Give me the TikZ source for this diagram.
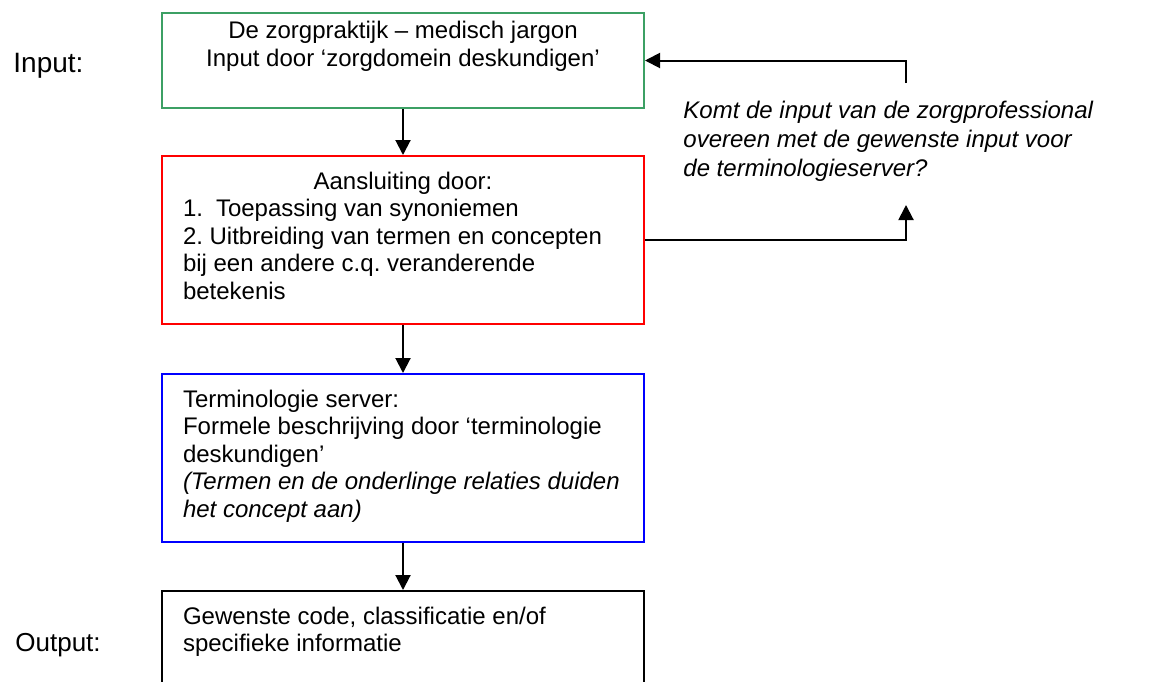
\documentclass[tikz,border=0pt]{standalone}
\usepackage{fontspec}
\setmainfont{Liberation Sans}
\usetikzlibrary{positioning,arrows.meta}
\definecolor{zorggreen}{RGB}{60,160,100}
\frenchspacing

\begin{document}
\begin{tikzpicture}[x=0.5pt,y=-0.5pt,
  box/.style={draw,line width=1pt,anchor=north west,inner xsep=10.5pt,inner ysep=0pt,
    font=\fontsize{12pt}{13.75pt}\selectfont},
  label/.style={anchor=base west,inner sep=0pt},
  arr/.style={line width=1pt,-{Triangle[length=7.5pt,width=7.5pt]}}]
\useasboundingbox (0,0) rectangle (1149,681);
\clip (0,0) rectangle (1149,681);

\node[label,font=\fontsize{14pt}{16pt}\selectfont] (input) at (13,72) {Input:};
\node[label,font=\fontsize{13pt}{15pt}\selectfont] (output) at (15,651) {Output:};

\node[box,draw=zorggreen] (praktijk) at (161,12) {\parbox[t][47.5pt][t]{220pt}{\centering
  \rule{0pt}{12.5pt}De zorgpraktijk -- medisch jargon\\[0.5pt]
  Input door ‘zorgdomein deskundigen’}};

\node[box,draw=red] (aansluiting) at (161,155) {\parbox[t][84pt][t]{220pt}{\centering
  \rule{0pt}{16.5pt}Aansluiting door:\par
  \raggedright
  \makebox[16.5pt][l]{1.}Toepassing van synoniemen\\
  2. Uitbreiding van termen en concepten\\
  bij een andere c.q. veranderende\\
  betekenis}};

\node[box,draw=blue] (server) at (161,373) {\parbox[t][84pt][t]{220pt}{\raggedright
  \rule{0pt}{16.5pt}Terminologie server:\\
  Formele beschrijving door ‘terminologie\\
  deskundigen’\\
  {\itshape (Termen en de onderlinge relaties duiden\\
  het concept aan)}}};

\node[box,draw=black] (uitvoer) at (161,590) {\parbox[t][60pt][t]{220pt}{\raggedright
  \rule{0pt}{16.5pt}Gewenste code, classificatie en/of\\
  specifieke informatie}};

\node[anchor=north west,inner sep=0pt,align=left,
  font=\fontsize{12pt}{14.5pt}\selectfont\itshape] (vraag) at (683,101)
  {Komt de input van de zorgprofessional\\
   overeen met de gewenste input voor\\
   de terminologieserver?};

\coordinate (terug) at (906,83);
\coordinate (vraagpijl) at (906,205);

\draw[arr] (praktijk) -- (aansluiting);
\draw[arr] (aansluiting) -- (server);
\draw[arr] (server) -- (uitvoer);
\draw[arr] (aansluiting.east) -| (vraagpijl);
\draw[arr] (terug) |- (praktijk.east);

\end{tikzpicture}
\end{document}
